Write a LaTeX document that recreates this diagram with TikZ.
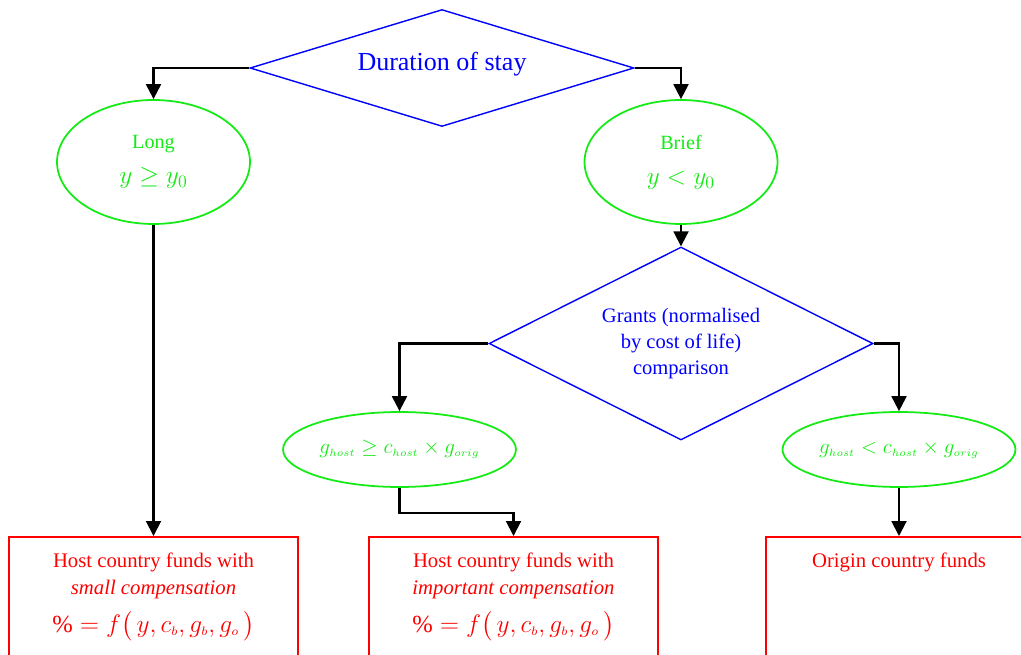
\documentclass[tikz,border=0pt]{standalone}
\usepackage{amsmath}
\usepackage{amssymb}
\usepackage{fontspec}
\setmainfont{Liberation Serif}
\usepackage{tikz}
\usetikzlibrary{shapes,arrows,arrows.meta}
\usepackage{color}

\definecolor{decblue}{RGB}{0,0,255}
\definecolor{condgreen}{RGB}{20,235,20}
\definecolor{fundred}{RGB}{255,0,0}

\tikzset{
  decision/.style={diamond, draw=decblue, line width=0.8pt, text=decblue,
    inner sep=0pt, align=center, minimum width=7.68cm},
  condition/.style={ellipse, draw=condgreen, line width=1pt, text=condgreen,
    inner sep=0pt, align=center, font=\fontsize{11.5}{15}\selectfont},
  fundbox/.style={rectangle, draw=fundred, line width=1pt, text=fundred,
    anchor=north, inner sep=0pt, font=\fontsize{11.8}{15.3}\selectfont},
  flow/.style={line width=1.15pt, -{Triangle[length=8.5pt,width=8.5pt]}}
}

\begin{document}
\begin{tikzpicture}[x=0.02cm, y=-0.02cm]
  \useasboundingbox (0,0) rectangle (1021,655);

  % decisions
  \node[decision, aspect=3.28, minimum height=2.34cm, text depth=0.25cm,
        font=\fontsize{14.8}{18}\selectfont] (dur) at (442,68) {Duration of stay};
  \node[decision, aspect=1.99, minimum height=3.86cm,
        font=\fontsize{11.7}{15}\selectfont] (grants) at (681,343.5)
        {Grants (normalised\\ by cost of life)\\ comparison};

  % conditions
  \node[condition, minimum width=3.86cm, minimum height=2.48cm] (long) at (153.5,162)
        {Long\\[5pt] {\fontsize{14}{16}\selectfont$y \geq y_{0}$}};
  \node[condition, minimum width=3.86cm, minimum height=2.48cm] (brief) at (681,162)
        {Brief\\[5pt] {\fontsize{14}{16}\selectfont$y < y_{0}$}};
  \node[condition, minimum width=4.66cm, minimum height=1.5cm] (ge) at (399.5,449.5)
        {$g_{\scriptscriptstyle host} \geq c_{\scriptscriptstyle host} \times g_{\scriptscriptstyle orig}$};
  \node[condition, minimum width=4.66cm, minimum height=1.5cm] (lt) at (899,449.5)
        {$g_{\scriptscriptstyle host} < c_{\scriptscriptstyle host} \times g_{\scriptscriptstyle orig}$};

  % funding boxes
  \node[fundbox, minimum width=5.78cm] (small) at (153.5,536)
        {\parbox[t][2.6cm][t]{5.6cm}{\centering
          \rule{0pt}{0.62cm}Host country funds with\\
          \textit{small compensation}\\[6pt]
          {\fontsize{14}{16}\selectfont$\% = f\bigl(\,y, c_{\scriptscriptstyle b}, g_{\scriptscriptstyle b}, g_{\scriptscriptstyle o}\,\bigr)$}}};
  \node[fundbox, minimum width=5.78cm] (imp) at (513.5,536)
        {\parbox[t][2.6cm][t]{5.6cm}{\centering
          \rule{0pt}{0.62cm}Host country funds with\\
          \textit{important compensation}\\[6pt]
          {\fontsize{14}{16}\selectfont$\% = f\bigl(\,y, c_{\scriptscriptstyle b}, g_{\scriptscriptstyle b}, g_{\scriptscriptstyle o}\,\bigr)$}}};
  \node[fundbox, minimum width=5.32cm] (orig) at (899,536)
        {\parbox[t][2.6cm][t]{5.2cm}{\centering
          \rule{0pt}{0.62cm}Origin country funds}};

  % connectors
  \draw[flow] (dur.west) -| (long.north);
  \draw[flow] (dur.east) -| (brief.north);
  \draw[flow] (brief.south) -- (grants.north);
  \draw[flow] (grants.west) -| (ge.north);
  \draw[flow] (grants.east) -| (lt.north);
  \draw[flow] (long.south) -- (small.north);
  \draw[flow] (ge.south) -- ++(0,25) -| (imp.north);
  \draw[flow] (lt.south) -- (orig.north);
\end{tikzpicture}
\end{document}
